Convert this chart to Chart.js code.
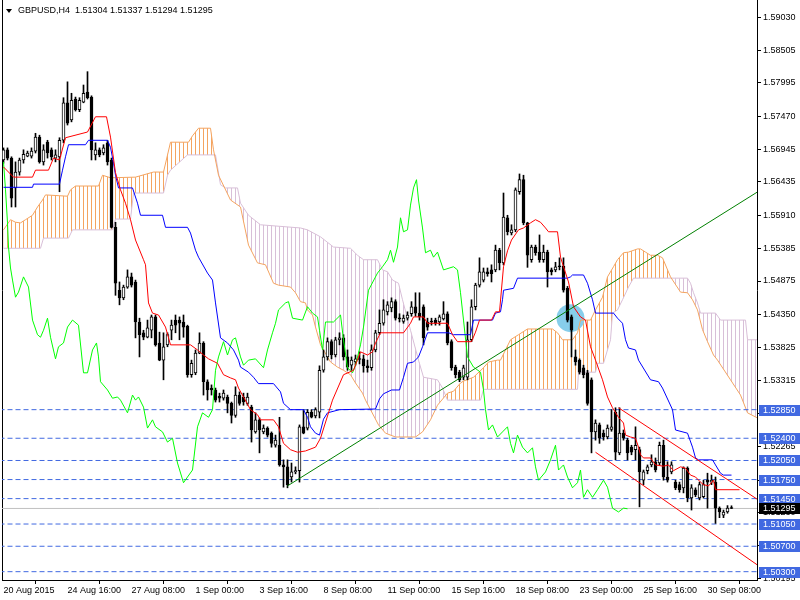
<!DOCTYPE html>
<html>
<head>
<meta charset="utf-8">
<script src="https://cdn.jsdelivr.net/npm/chart.js@4.4.1/dist/chart.umd.min.js"></script>
<style>
html,body{margin:0;padding:0;background:#fff;}
canvas{display:block;}
</style>
</head>
<body>
<canvas id="chart" width="800" height="600"></canvas>
<script>
// GBPUSD H4 candles, bar 0 = first bar on the left
const opens = [1.5678,1.5694,1.5681,1.5634,1.5659,1.5678,1.5684,1.5684,1.5692,1.5714,1.5675,1.5706,1.5694,1.5681,1.5683,1.5709,1.5768,1.5741,1.5774,1.5757,
  1.5769,1.5785,1.5777,1.5686,1.5694,1.5689,1.5705,1.5678,1.5572,1.5473,1.5461,1.5478,1.5494,1.5486,1.5423,1.5406,1.5399,1.5410,1.5431,1.5390,
  1.5363,1.5387,1.5410,1.5426,1.5426,1.5423,1.5416,1.5340,1.5343,1.5374,1.5390,1.5329,1.5319,1.5316,1.5306,1.5303,1.5305,1.5295,1.5276,1.5308,
  1.5305,1.5295,1.5289,1.5250,1.5269,1.5250,1.5256,1.5248,1.5229,1.5229,1.5198,1.5195,1.5179,1.5187,1.5189,1.5258,1.5256,1.5281,1.5275,1.5281,
  1.5347,1.5368,1.5392,1.5371,1.5395,1.5398,1.5368,1.5355,1.5360,1.5365,1.5365,1.5354,1.5351,1.5379,1.5406,1.5421,1.5439,1.5445,1.5455,1.5429,
  1.5424,1.5429,1.5436,1.5447,1.5437,1.5447,1.5423,1.5424,1.5426,1.5423,1.5428,1.5436,1.5392,1.5352,1.5344,1.5336,1.5336,1.5395,1.5447,1.5481,
  1.5489,1.5502,1.5505,1.5505,1.5536,1.5516,1.5587,1.5563,1.5568,1.5628,1.5647,1.5579,1.5521,1.5541,1.5533,1.5521,1.5533,1.5505,1.5505,1.5511,
  1.5511,1.5476,1.5431,1.5368,1.5363,1.5351,1.5343,1.5332,1.5250,1.5261,1.5248,1.5242,1.5254,1.5281,1.5217,1.5248,1.5237,1.5226,1.5222,1.5222,
  1.5174,1.5189,1.5198,1.5203,1.5201,1.5229,1.5179,1.5187,1.5171,1.5167,1.5162,1.5193,1.5146,1.5159,1.5146,1.5148,1.5174,1.5171,1.5171,1.5130,
  1.5119,1.5124,1.51304];
const highs = [1.5697,1.5697,1.5683,1.5675,1.5681,1.5694,1.5692,1.5697,1.5720,1.5717,1.5702,1.5709,1.5697,1.5694,1.5713,1.5776,1.5801,1.5783,1.5777,1.5776,
  1.5796,1.5817,1.5779,1.5705,1.5697,1.5702,1.5709,1.5681,1.5580,1.5486,1.5481,1.5505,1.5500,1.5489,1.5429,1.5410,1.5426,1.5434,1.5434,1.5407,
  1.5406,1.5406,1.5426,1.5434,1.5431,1.5434,1.5418,1.5363,1.5379,1.5406,1.5392,1.5332,1.5324,1.5319,1.5311,1.5316,1.5308,1.5297,1.5321,1.5313,
  1.5311,1.5311,1.5292,1.5280,1.5272,1.5261,1.5258,1.5250,1.5245,1.5273,1.5206,1.5206,1.5201,1.5195,1.5261,1.5285,1.5285,1.5285,1.5288,1.5354,
  1.5379,1.5398,1.5395,1.5399,1.5406,1.5403,1.5379,1.5368,1.5371,1.5376,1.5371,1.5363,1.5387,1.5410,1.5442,1.5458,1.5455,1.5461,1.5458,1.5436,
  1.5434,1.5439,1.5455,1.5469,1.5469,1.5450,1.5429,1.5429,1.5429,1.5434,1.5455,1.5439,1.5395,1.5355,1.5347,1.5355,1.5423,1.5458,1.5484,1.5524,
  1.5508,1.5508,1.5513,1.5544,1.5539,1.5626,1.5591,1.5576,1.5634,1.5656,1.5654,1.5580,1.5544,1.5544,1.5560,1.5544,1.5536,1.5508,1.5517,1.5524,
  1.5524,1.5479,1.5434,1.5379,1.5365,1.5355,1.5347,1.5335,1.5269,1.5264,1.5253,1.5261,1.5285,1.5288,1.5288,1.5253,1.5240,1.5229,1.5258,1.5226,
  1.5190,1.5198,1.5214,1.5209,1.5234,1.5237,1.5203,1.5203,1.5174,1.5171,1.5195,1.5195,1.5167,1.5162,1.5171,1.5174,1.5185,1.5182,1.5179,1.5132,
  1.5127,1.5134,1.51337];
const lows = [1.5673,1.5678,1.5604,1.5604,1.5654,1.5673,1.5683,1.5681,1.5689,1.5673,1.5670,1.5681,1.5678,1.5675,1.5628,1.5705,1.5733,1.5738,1.5755,1.5754,
  1.5768,1.5774,1.5678,1.5678,1.5683,1.5686,1.5670,1.5571,1.5465,1.5450,1.5458,1.5476,1.5478,1.5398,1.5368,1.5395,1.5398,1.5398,1.5385,1.5362,
  1.5332,1.5384,1.5395,1.5406,1.5395,1.5399,1.5336,1.5336,1.5340,1.5373,1.5308,1.5300,1.5308,1.5297,1.5297,1.5300,1.5280,1.5264,1.5273,1.5292,
  1.5292,1.5292,1.5234,1.5248,1.5217,1.5247,1.5242,1.5226,1.5226,1.5196,1.5163,1.5162,1.5171,1.5184,1.5171,1.5247,1.5253,1.5272,1.5272,1.5272,
  1.5344,1.5363,1.5365,1.5368,1.5387,1.5363,1.5347,1.5347,1.5355,1.5357,1.5344,1.5344,1.5347,1.5376,1.5403,1.5418,1.5434,1.5439,1.5426,1.5423,
  1.5421,1.5426,1.5432,1.5432,1.5426,1.5387,1.5410,1.5418,1.5418,1.5418,1.5426,1.5387,1.5347,1.5335,1.5329,1.5332,1.5332,1.5392,1.5442,1.5478,
  1.5486,1.5495,1.5486,1.5502,1.5505,1.5513,1.5560,1.5560,1.5565,1.5624,1.5576,1.5509,1.5517,1.5528,1.5517,1.5517,1.5478,1.5497,1.5502,1.5505,
  1.5470,1.5423,1.5368,1.5355,1.5341,1.5335,1.5292,1.5217,1.5237,1.5232,1.5237,1.5239,1.5251,1.5206,1.5214,1.5237,1.5206,1.5214,1.5206,1.5132,
  1.5167,1.5184,1.5195,1.5187,1.5198,1.5174,1.5171,1.5184,1.5159,1.5155,1.5154,1.5140,1.5127,1.5148,1.5143,1.5146,1.5130,1.5167,1.5106,1.5115,
  1.5115,1.5122,1.51294];
const closes = [1.5694,1.5681,1.5618,1.5659,1.5678,1.5687,1.5689,1.5692,1.5714,1.5675,1.5694,1.5689,1.5683,1.5686,1.5709,1.5768,1.5736,1.5772,1.5757,1.5772,
  1.5783,1.5776,1.5694,1.5694,1.5686,1.5697,1.5675,1.5572,1.5484,1.5461,1.5478,1.5494,1.5481,1.5423,1.5403,1.5399,1.5414,1.5431,1.5387,1.5363,
  1.5384,1.5403,1.5418,1.5418,1.5421,1.5415,1.5340,1.5358,1.5374,1.5390,1.5329,1.5316,1.5316,1.5300,1.5303,1.5311,1.5295,1.5276,1.5308,1.5295,
  1.5297,1.5305,1.5253,1.5269,1.5253,1.5256,1.5245,1.5232,1.5237,1.5198,1.5195,1.5167,1.5187,1.5189,1.5258,1.5248,1.5281,1.5273,1.5285,1.5347,
  1.5368,1.5392,1.5371,1.5395,1.5398,1.5368,1.5352,1.5363,1.5365,1.5364,1.5354,1.5351,1.5379,1.5406,1.5421,1.5442,1.5450,1.5455,1.5429,1.5428,
  1.5429,1.5434,1.5447,1.5437,1.5431,1.5398,1.5415,1.5423,1.5421,1.5431,1.5436,1.5390,1.5351,1.5340,1.5332,1.5351,1.5395,1.5447,1.5481,1.5502,
  1.5502,1.5499,1.5499,1.5536,1.5516,1.5588,1.5565,1.5568,1.5631,1.5647,1.5579,1.5528,1.5541,1.5532,1.5521,1.5533,1.5502,1.5502,1.5510,1.5510,
  1.5473,1.5426,1.5410,1.5360,1.5344,1.5340,1.5295,1.5250,1.5264,1.5240,1.5242,1.5256,1.5258,1.5218,1.5248,1.5240,1.5217,1.5218,1.5229,1.5187,
  1.5187,1.5195,1.5203,1.5190,1.5229,1.5179,1.5174,1.5198,1.5162,1.5159,1.5193,1.5146,1.5162,1.5151,1.5167,1.5167,1.5171,1.5174,1.5130,1.5124,
  1.5124,1.5130,1.51295];

// Ichimoku lines as [bar, price] vertices
const tenkan = [[0,1.5667],[2.5,1.5651],[7.25,1.5651],[8,1.5662],[11.25,1.5662],[12.5,1.5681],[14,1.5678],[15.5,1.5713],[21,1.5722],[23,1.5746],
  [25.75,1.5746],[26.75,1.5714],[28,1.5658],[29.25,1.5631],[30.5,1.5610],[31.75,1.5584],[33,1.5552],[35,1.5521],[35.5,1.5513],[36.25,1.5453],
  [37.25,1.5437],[38.75,1.5434],[40.5,1.5415],[41.75,1.5387],[46.75,1.5387],[48.5,1.5379],[50,1.5371],[51.25,1.5365],[53.5,1.5358],[55,1.5340],
  [56.75,1.5335],[58,1.5332],[58.75,1.5319],[60,1.5305],[61.75,1.5285],[63.5,1.5277],[64.25,1.5269],[67.5,1.5269],[68.75,1.5258],[70,1.5232],
  [71.75,1.5222],[73.5,1.5218],[75.5,1.5220],[78,1.5226],[79.25,1.5240],[82.25,1.5300],[85,1.5340],[87.5,1.5347],[89.25,1.5376],[91,1.5371],
  [92.25,1.5376],[93,1.5390],[94.25,1.5406],[100,1.5406],[101.75,1.5421],[102.5,1.5431],[105,1.5431],[106,1.5421],[111,1.5421],[112.25,1.5403],
  [113.5,1.5392],[117,1.5392],[118,1.5407],[119,1.5426],[122,1.5426],[123,1.5439],[124,1.5439],[125,1.5510],[126,1.5535],[127,1.5552],
  [128.75,1.5568],[130,1.5571],[131.75,1.5579],[133,1.5584],[134.25,1.5580],[135.5,1.5571],[136.25,1.5565],[138.5,1.5565],[139.25,1.5525],[140,1.5510],
  [141.25,1.5486],[142.5,1.5447],[144.25,1.5431],[145.5,1.5426],[146.75,1.5384],[148,1.5363],[149.75,1.5332],[151,1.5305],[152.25,1.5288],[153.75,1.5273],
  [155,1.5264],[155.5,1.5245],[156.75,1.5242],[158,1.5240],[158.75,1.5226],[159.25,1.5214],[160,1.5209],[161.75,1.5209],[163,1.5198],[165,1.5196],
  [166.25,1.5198],[167.5,1.5189],[169.25,1.5195],[170.5,1.5193],[171.75,1.5182],[173,1.5179],[174.25,1.5171],[175,1.5167],[176.25,1.5165],[177.5,1.5174],
  [178,1.5159],[184,1.5159]];
const kijun = [[0,1.5635],[7.25,1.5635],[7.5,1.5640],[14,1.5640],[14.75,1.5662],[15.5,1.5683],[16.25,1.5702],[20.5,1.5702],[21.25,1.5709],[26,1.5709],
  [26.75,1.5698],[27.5,1.5673],[28,1.5654],[28.75,1.5634],[32.25,1.5634],[33.5,1.5610],[34.25,1.5591],[39.75,1.5591],[40.5,1.5572],[46,1.5572],
  [46.75,1.5563],[48,1.5536],[48.75,1.5525],[51,1.5500],[52.25,1.5489],[53,1.5453],[54.25,1.5398],[56,1.5390],[57.5,1.5379],[58.75,1.5363],
  [59.25,1.5352],[61.25,1.5344],[62.5,1.5336],[63.75,1.5326],[67.5,1.5326],[69.25,1.5313],[70,1.5295],[71.75,1.5285],[75,1.5285],[76,1.5273],
  [76.75,1.5258],[78,1.5248],[79,1.5245],[80,1.5270],[81,1.5280],[84,1.5285],[93,1.5286],[94,1.5302],[95,1.5310],[97,1.5316],
  [99,1.5316],[100,1.5336],[101,1.5358],[102.5,1.5360],[103.75,1.5368],[104.75,1.5384],[106,1.5406],[111.25,1.5406],[112.5,1.5403],[116.75,1.5403],
  [117.5,1.5426],[122.25,1.5426],[123,1.5437],[124.25,1.5439],[124.75,1.5458],[125,1.5473],[127.5,1.5476],[128.5,1.5492],[141,1.5492],[141.75,1.5494],
  [142.25,1.5497],[145,1.5497],[146,1.5484],[147.25,1.5458],[148,1.5437],[152.5,1.5437],[153.5,1.5429],[154.75,1.5421],[155.5,1.5395],[156.25,1.5382],
  [158,1.5379],[158.75,1.5363],[161.75,1.5332],[163.75,1.5329],[164.75,1.5319],[167.25,1.5285],[168,1.5253],[171,1.5248],[172.25,1.5226],[173,1.5209],
  [173.75,1.5206],[177.25,1.5206],[178,1.5198],[179.25,1.5185],[180,1.5182],[182,1.5182]];
const senkouA = [[0,1.5568],[1.75,1.5584],[3,1.5580],[4.25,1.5579],[5.5,1.5584],[7.25,1.5591],[8.5,1.5604],[9.75,1.5615],[10.5,1.5623],[16,1.5621],
  [16.75,1.5631],[18,1.5637],[23.75,1.5637],[24.75,1.5654],[26.75,1.5650],[33,1.5651],[37.5,1.5659],[40,1.5659],[41.75,1.5706],[46.25,1.5706],
  [47.25,1.5716],[48.75,1.5728],[51.75,1.5728],[52.5,1.5694],[53.75,1.5654],[56.75,1.5615],[59.25,1.5604],[61.25,1.5544],[63.5,1.5516],[65.5,1.5513],
  [67.5,1.5484],[68.75,1.5481],[71.75,1.5478],[73,1.5469],[74.25,1.5455],[75.5,1.5453],[76,1.5442],[77.25,1.5434],[78,1.5415],[79.25,1.5387],
  [81.75,1.5360],[83.5,1.5352],[85,1.5347],[86.75,1.5340],[88,1.5327],[89.75,1.5311],[90.5,1.5300],[91.75,1.5285],[93.75,1.5261],[95.5,1.5248],
  [98,1.5242],[103,1.5242],[104.75,1.5250],[106.75,1.5269],[108.5,1.5292],[111,1.5311],[112.5,1.5314],[114.25,1.5327],[115,1.5330],[117.5,1.5336],
  [120,1.5351],[121.25,1.5360],[123.5,1.5363],[124.25,1.5363],[126.75,1.5395],[128.75,1.5403],[131,1.5412],[137.25,1.5412],[138.5,1.5406],[139.75,1.5395],
  [142.25,1.5395],[143.5,1.5406],[144.25,1.5426],[146.75,1.5426],[148,1.5442],[149.75,1.5462],[151,1.5494],[152.5,1.5510],[153.5,1.5521],[155,1.5532],
  [156.25,1.5533],[158.5,1.5538],[159.25,1.5538],[160.5,1.5533],[161.75,1.5528],[163.5,1.5528],[164.75,1.5524],[166.75,1.5494],[169.25,1.5470],[171,1.5469],
  [172.25,1.5458],[173.5,1.5442],[174.75,1.5411],[176,1.5392],[177.5,1.5371],[178.5,1.5363],[181.75,1.5332],[184.25,1.5308],[186,1.5280],[188.5,1.5272],
  [191.75,1.5272]];
const senkouB = [[0,1.5539],[9.25,1.5539],[10,1.5555],[16.25,1.5555],[17.25,1.5568],[27.25,1.5568],[28,1.5585],[31.75,1.5585],[32.5,1.5626],[40,1.5626],
  [41,1.5654],[41.75,1.5662],[46,1.5686],[53,1.5686],[54.25,1.5639],[55.5,1.5634],[58.5,1.5634],[59.25,1.5610],[61.25,1.5591],[64.25,1.5576],
  [74.25,1.5571],[76,1.5568],[79.25,1.5557],[82.5,1.5541],[86.75,1.5539],[88.5,1.5528],[90,1.5521],[93.5,1.5521],[94.75,1.5505],[96,1.5502],
  [97.25,1.5489],[98.75,1.5484],[99.75,1.5458],[101.75,1.5410],[103.75,1.5363],[105,1.5336],[108.5,1.5332],[109.75,1.5319],[111,1.5300],[119.25,1.5300],
  [120,1.5317],[143.5,1.5317],[143.75,1.5344],[148,1.5344],[148.5,1.5358],[150,1.5358],[151.75,1.5395],[152.25,1.5437],[153.5,1.5442],[154.75,1.5458],
  [156.25,1.5478],[157.5,1.5492],[171,1.5492],[171.75,1.5484],[172.5,1.5469],[173.5,1.5453],[174.25,1.5437],[178,1.5437],[179.25,1.5426],[185.5,1.5426],
  [186,1.5395],[188.5,1.5395],[191.75,1.5395]];
const chikou = [[0,1.5675],[0.5,1.5631],[1,1.5579],[1.25,1.5541],[1.75,1.5508],[2.25,1.5489],[3,1.5462],[3.75,1.5470],[5,1.5494],[6.25,1.5478],
  [7.25,1.5426],[8.5,1.5403],[9.25,1.5399],[10,1.5410],[11,1.5429],[11.75,1.5399],[13,1.5365],[13.75,1.5384],[15,1.5390],[16,1.5415],
  [17.25,1.5426],[18.75,1.5418],[20,1.5343],[21,1.5343],[22.25,1.5379],[23.25,1.5390],[23.75,1.5368],[24.25,1.5329],[26,1.5316],[27.25,1.5303],
  [28.5,1.5305],[29.25,1.5300],[31,1.5280],[32.25,1.5308],[33,1.5300],[33.75,1.5305],[35,1.5289],[36,1.5256],[37.25,1.5269],[38,1.5258],
  [39.75,1.5250],[41,1.5234],[42.25,1.5240],[43.5,1.5201],[45,1.5170],[46,1.5179],[47.25,1.5190],[48.5,1.5258],[49.75,1.5280],[51.25,1.5273],
  [52.25,1.5285],[53,1.5347],[53.75,1.5368],[55,1.5392],[56,1.5371],[57.25,1.5395],[58,1.5398],[59.25,1.5368],[60,1.5355],[61.25,1.5363],
  [63,1.5365],[65,1.5351],[66,1.5379],[67.25,1.5406],[68,1.5421],[68.75,1.5442],[70.5,1.5453],[71.25,1.5455],[72.25,1.5429],[74.75,1.5426],
  [76,1.5447],[77.25,1.5437],[78.5,1.5431],[79,1.5410],[79.75,1.5379],[80.5,1.5423],[82.5,1.5423],[84.25,1.5434],[85,1.5395],[86,1.5351],
  [87.25,1.5343],[88,1.5355],[89.25,1.5387],[90,1.5415],[91.25,1.5473],[93.5,1.5500],[94.75,1.5510],[96,1.5521],[96.75,1.5536],[97.5,1.5517],
  [98.5,1.5541],[99.25,1.5587],[100,1.5565],[101,1.5568],[101.75,1.5607],[102.5,1.5634],[103.25,1.5647],[103.75,1.5615],[104.75,1.5571],[105.5,1.5532],
  [106.75,1.5536],[107.5,1.5525],[108.5,1.5533],[110,1.5505],[112.5,1.5510],[113.5,1.5505],[114.25,1.5469],[115,1.5426],[116,1.5368],[117.5,1.5352],
  [119.25,1.5344],[120,1.5316],[120.5,1.5285],[121.25,1.5253],[122.25,1.5261],[123.5,1.5242],[124.75,1.5250],[126,1.5258],[126.75,1.5232],[127.5,1.5217],
  [128.5,1.5245],[129.75,1.5226],[131,1.5217],[132.25,1.5225],[133,1.5195],[133.75,1.5174],[135.5,1.5187],[136.75,1.5206],[138,1.5229],[138.75,1.5190],
  [140,1.5198],[141,1.5179],[142.25,1.5162],[143.5,1.5170],[144.25,1.5190],[145,1.5147],[146,1.5159],[147.25,1.5147],[148.5,1.5159],[150,1.5174],
  [151,1.5163],[152.25,1.5130],[153.75,1.5124],[155,1.5130],[156,1.5129]];

// drawn objects
const trendLine = [[71,1.5165],[200,1.5673]];
const channelTop = [[153.75,1.5288],[200,1.5096]];
const channelBottom = [[148,1.5218],[200,1.4990]];
const marker = [[141.75,1.5429]];
const levels = [1.52850,1.52400,1.52050,1.51750,1.51450,1.51050,1.50700,1.50300];
const bidPrice = 1.51295;

// axes
const priceTicks = [1.59030,1.58505,1.57995,1.57470,1.56945,1.56435,1.55910,1.55385,1.54875,1.54350,1.53825,1.53315,1.52790,1.52265,1.51740,1.51230,1.50705,1.50195];
const dateTickBars = [0,16,32,48,64,80,96,112,128,144,160,176];
const dateLabels = ["20 Aug 2015","24 Aug 16:00","27 Aug 08:00","1 Sep 00:00","3 Sep 16:00","8 Sep 08:00","11 Sep 00:00","15 Sep 16:00","18 Sep 08:00","23 Sep 00:00","25 Sep 16:00","30 Sep 08:00"];
const header = "GBPUSD,H4  1.51304 1.51337 1.51294 1.51295";

const FONT = '"Liberation Sans", Arial, sans-serif';
const canvas = document.getElementById("chart");
const ctx = canvas.getContext("2d");

function hatch(color) {
  const tile = document.createElement("canvas");
  tile.width = 4; tile.height = 1;
  const g = tile.getContext("2d");
  g.fillStyle = color;
  g.fillRect(3, 0, 1, 1);
  return ctx.createPattern(tile, "repeat");
}
const hatchA = hatch("#f4a460");
const hatchB = hatch("#d8bfd8");

const pts = arr => arr.map(p => ({x: p[0], y: p[1]}));
const hline = v => [{x: -5, y: v}, {x: 200, y: v}];

const wicks = opens.map((o, i) => ({x: i, y: [lows[i], highs[i]]}));
const bodies = opens.map((o, i) => ({x: i, y: [Math.min(o, closes[i]), Math.max(o, closes[i])]}));
const bodyFill = opens.map((o, i) => closes[i] >= o ? "#ffffff" : "#000000");

function line(data, color, order, extra) {
  return Object.assign({
    type: "line", data: data, borderColor: color, borderWidth: 1,
    pointRadius: 0, tension: 0, fill: false, order: order
  }, extra || {});
}

const datasets = [
  {type: "line", data: pts(marker), showLine: false, pointRadius: 14, pointBorderWidth: 0,
   pointBackgroundColor: "#87ceeb", order: 20},
  line(pts(senkouA), "#f4a460", 15),
  line(pts(senkouB), "#d8bfd8", 15)
];
levels.forEach(v => datasets.push(line(hline(v), "#4169e1", 12, {borderDash: [5, 3]})));
datasets.push(line(hline(bidPrice), "#c0c0c0", 12));
datasets.push({type: "bar", data: wicks, backgroundColor: "#000", borderWidth: 0,
  barThickness: 1, grouped: false, order: 8});
datasets.push({type: "bar", data: bodies, backgroundColor: bodyFill, borderColor: "#000",
  borderWidth: 1, borderSkipped: false, barThickness: 3, minBarLength: 1, grouped: false, order: 7});
datasets.push(line(pts(chikou), "#00ff00", 4));
datasets.push(line(pts(kijun), "#0000ff", 3));
datasets.push(line(pts(tenkan), "#ff0000", 2));
datasets.push(line(pts(trendLine), "#008000", 1));
datasets.push(line(pts(channelTop), "#ff0000", 1));
datasets.push(line(pts(channelBottom), "#ff0000", 1));

// kumo hatching between the two senkou lines, using the line points placed by the scales
const kumo = {
  id: "kumo",
  beforeDatasetsDraw(chart) {
    const c = chart.ctx;
    const area = chart.chartArea;
    const a = chart.getDatasetMeta(1).data;
    const b = chart.getDatasetMeta(2).data;
    const region = (edge, pattern) => {
      c.save();
      c.beginPath();
      c.rect(area.left, area.top, area.right - area.left, area.bottom - area.top);
      c.clip();
      c.beginPath();
      b.forEach((p, i) => i ? c.lineTo(p.x, p.y) : c.moveTo(p.x, p.y));
      c.lineTo(b[b.length - 1].x, edge);
      c.lineTo(b[0].x, edge);
      c.closePath();
      c.clip();
      c.beginPath();
      a.forEach((p, i) => i ? c.lineTo(p.x, p.y) : c.moveTo(p.x, p.y));
      for (let i = b.length - 1; i >= 0; i--) c.lineTo(b[i].x, b[i].y);
      c.closePath();
      c.fillStyle = pattern;
      c.fill();
      c.restore();
    };
    region(area.top, hatchA);
    region(area.bottom, hatchB);
  }
};

const overlay = {
  id: "overlay",
  afterDraw(chart) {
    const c = chart.ctx;
    const y = chart.scales.y;
    c.save();
    c.font = "9px " + FONT;
    c.textBaseline = "middle";
    c.textAlign = "left";
    const tag = (v, bg) => {
      const py = Math.round(y.getPixelForValue(v));
      c.fillStyle = bg;
      c.fillRect(759, py - 5, 41, 11);
      c.fillStyle = "#fff";
      c.fillText(v.toFixed(5), 763, py + 0.5);
    };
    levels.forEach(v => tag(v, "#4169e1"));
    tag(bidPrice, "#000");
    c.fillStyle = "#000";
    c.beginPath();
    c.moveTo(6, 9); c.lineTo(12, 9); c.lineTo(9, 13); c.closePath(); c.fill();
    c.fillText(header, 18, 11);
    c.restore();
  }
};

const noPad = s => { s.paddingLeft = 0; s.paddingRight = 0; s.paddingTop = 0; s.paddingBottom = 0; };

new Chart(canvas, {
  type: "bar",
  data: {datasets: datasets},
  plugins: [kumo, overlay],
  options: {
    responsive: false,
    animation: false,
    devicePixelRatio: 1,
    events: [],
    layout: {padding: 0, autoPadding: false},
    plugins: {legend: {display: false}, tooltip: {enabled: false}},
    scales: {
      x: {
        type: "linear", position: "bottom", offset: false,
        min: -0.375, max: 188.375,
        afterBuildTicks: s => { s.ticks = dateTickBars.map(v => ({value: v})); },
        afterFit: s => { s.height = 20; noPad(s); },
        ticks: {
          autoSkip: false, maxRotation: 0, align: "start", padding: 1, color: "#000",
          font: {family: FONT, size: 9},
          callback: (v, i) => dateLabels[i]
        },
        grid: {drawOnChartArea: false, drawTicks: true, tickLength: 4, color: "#000"},
        border: {display: true, color: "#000"}
      },
      y: {
        type: "linear", position: "right", beginAtZero: false,
        min: 1.50169, max: 1.59298,
        afterBuildTicks: s => { s.ticks = priceTicks.map(v => ({value: v})); },
        afterFit: s => { s.width = 43; noPad(s); },
        ticks: {
          padding: 2, color: "#000", font: {family: FONT, size: 9},
          callback: v => v.toFixed(5)
        },
        grid: {drawOnChartArea: false, drawTicks: true, tickLength: 4, color: "#000"},
        border: {display: true, color: "#000"}
      },
      yl: {
        type: "linear", position: "left", min: 0, max: 1,
        afterFit: s => { s.width = 2; noPad(s); },
        ticks: {display: false},
        grid: {display: false},
        border: {display: true, color: "#000"}
      }
    }
  }
});
</script>
</body>
</html>
